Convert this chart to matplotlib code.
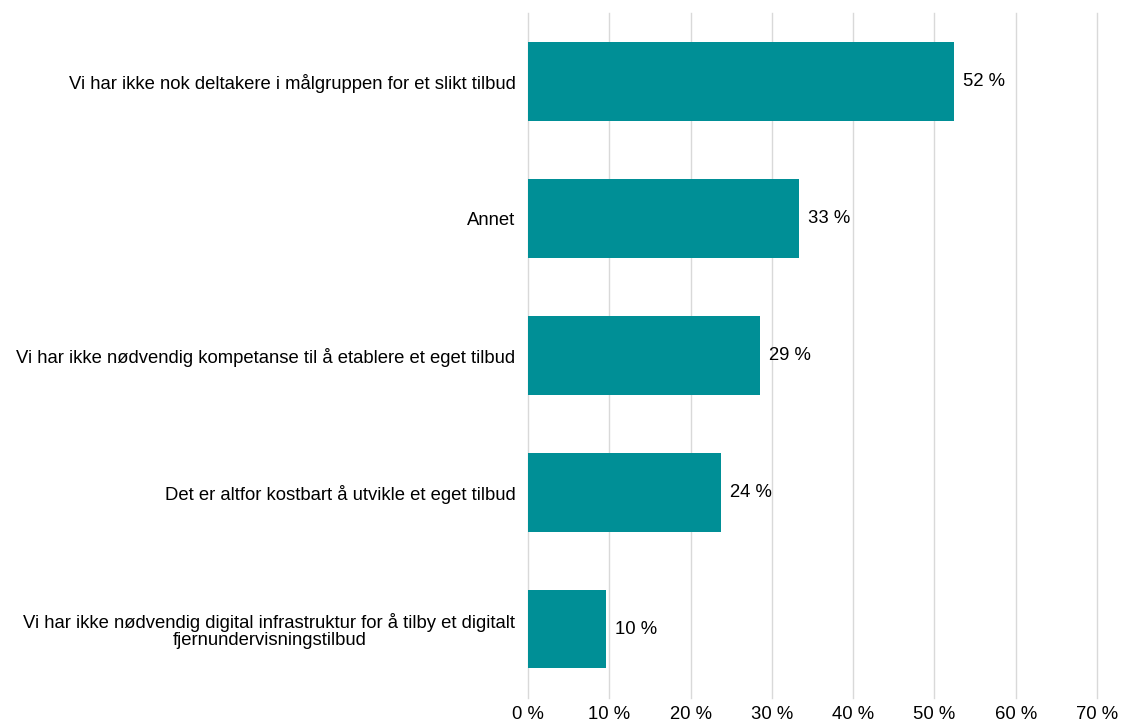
import matplotlib.pyplot as plt
from matplotlib.ticker import FuncFormatter

plt.rcParams["font.family"] = ["Liberation Sans", "DejaVu Sans"]

categories = [
    "Vi har ikke nok deltakere i målgruppen for et slikt tilbud",
    "Annet",
    "Vi har ikke nødvendig kompetanse til å etablere et eget tilbud",
    "Det er altfor kostbart å utvikle et eget tilbud",
    "Vi har ikke nødvendig digital infrastruktur for å tilby et digitalt\nfjernundervisningstilbud",
]
values = [52.4, 33.3, 28.5, 23.7, 9.6]
value_labels = ["52 %", "33 %", "29 %", "24 %", "10 %"]
xticks = [0, 10, 20, 30, 40, 50, 60, 70]

FS = 13.3

fig = plt.figure(figsize=(11.21, 7.24), dpi=100)
ax = fig.add_axes([0.471, 0.036, 0.5076, 0.946])

y = list(range(len(categories)))
ax.barh(y, values, height=0.57, color="#008F96", zorder=2)

for yi, v, lab in zip(y, values, value_labels):
    ax.annotate(lab, (v, yi), xytext=(6.5, 0), textcoords="offset points",
                va="center", ha="left", fontsize=FS, color="black")

ax.set_ylim(len(categories) - 0.5, -0.5)
ax.set_xlim(0, 70)
ax.set_xticks(xticks)
ax.xaxis.set_major_formatter(FuncFormatter(lambda x, p: f"{x:.0f} %"))
ax.set_yticks(y)
ax.set_yticklabels(categories, fontsize=FS, color="black")
for t in ax.get_yticklabels():
    t.set_multialignment("center")
    t.set_linespacing(1.0)
ax.tick_params(axis="both", length=0, labelsize=FS, colors="black")
ax.tick_params(axis="y", pad=9)
ax.tick_params(axis="x", pad=6)
ax.grid(axis="x", color="#d9d9d9", linewidth=1, zorder=0)
for gl in ax.get_xgridlines():
    gl.set_clip_on(False)
for s in ax.spines.values():
    s.set_visible(False)

fig.savefig("out.png", dpi=100)
